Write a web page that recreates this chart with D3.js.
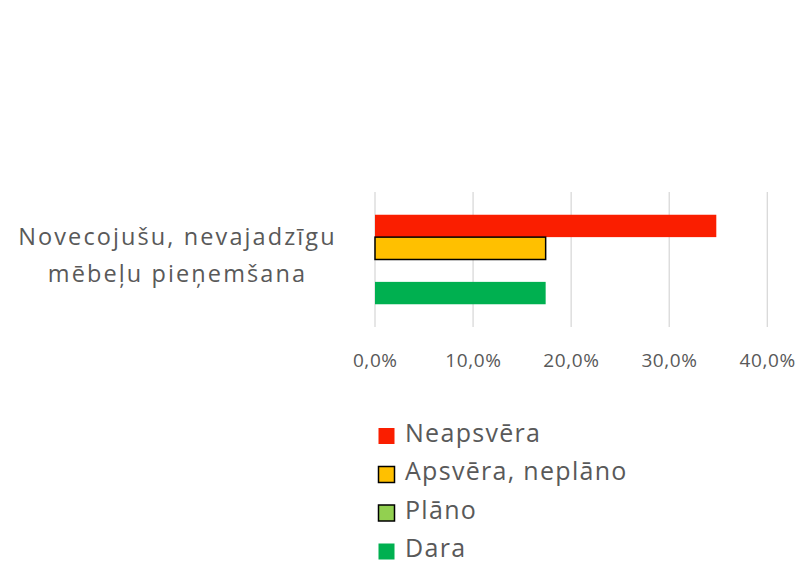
<!DOCTYPE html>
<html><head><meta charset="utf-8">
<script src="https://cdn.jsdelivr.net/npm/d3@7"></script>
<style>body{margin:0;background:#fff}svg{display:block}</style>
</head><body>
<svg id="c" width="808" height="570"></svg>
<script>
const categories = ["Novecojušu, nevajadzīgu mēbeļu pieņemšana"];
const categoryLines = [["Novecojušu, nevajadzīgu", "mēbeļu pieņemšana"]];
const seriesNames = ["Neapsvēra", "Apsvēra, neplāno", "Plāno", "Dara"];
const seriesValues = [[0.348], [0.174], [0.0], [0.174]];
const seriesColors = ["#FA1E00", "#FFC000", "#92D050", "#00B050"];
const seriesStroke = [null, "#000", "#000", null];
const tickValues = [0, 0.1, 0.2, 0.3, 0.4];

const svg = d3.select("#c");
const textColor = "#595959";
const font = "'Open Sans', Lato, sans-serif";

const x = d3.scaleLinear().domain([0, 0.4]).range([375, 767.3]);
const y0 = d3.scaleBand().domain(categories).range([192, 327]).paddingInner(0.337).paddingOuter(0.1685);
const y1 = d3.scaleBand().domain(seriesNames).range([0, y0.bandwidth()]).padding(0);

// gridlines
svg.append("g").selectAll("line").data(tickValues).join("line")
  .attr("x1", d => x(d)).attr("x2", d => x(d))
  .attr("y1", 192).attr("y2", 327)
  .attr("stroke", "#d9d9d9").attr("stroke-width", 1.3);

// axis labels
const fmt = d => d3.format(".1f")(d * 100).replace(".", ",") + "%";
svg.append("g").selectAll("text").data(tickValues).join("text")
  .attr("x", d => x(d) + 0.3).attr("y", 366.5)
  .attr("text-anchor", "middle")
  .attr("font-family", font).attr("font-size", 19).attr("letter-spacing", 0.6)
  .attr("fill", textColor).text(fmt);

// bars
categories.forEach((cat, ci) => {
  const g = svg.append("g").attr("transform", `translate(0,${y0(cat)})`);
  seriesNames.forEach((s, si) => {
    const v = seriesValues[si][ci];
    const w = x(v) - x(0);
    if (w <= 0) return;
    const r = g.append("rect")
      .attr("x", x(0)).attr("y", y1(s))
      .attr("width", w).attr("height", y1.bandwidth())
      .attr("fill", seriesColors[si]);
    if (seriesStroke[si]) r.attr("stroke", seriesStroke[si]).attr("stroke-width", 1.5);
  });
  // category label
  const cy = y0(cat) + y0.bandwidth() / 2;
  const lines = categoryLines[ci];
  const t = svg.append("text").attr("text-anchor", "middle")
    .attr("font-family", font).attr("font-size", 23.5).attr("letter-spacing", 2.1)
    .attr("fill", textColor);
  lines.forEach((ln, li) => {
    t.append("tspan").attr("x", 177.5).attr("y", cy - 15 + li * 37).text(ln);
  });
});

// legend
const lg = svg.append("g");
seriesNames.forEach((s, i) => {
  const cy = 436 + i * 38.5;
  lg.append("rect").attr("x", 378.5).attr("y", cy - 8).attr("width", 16).attr("height", 16)
    .attr("fill", seriesColors[i])
    .attr("stroke", seriesStroke[i] || "none").attr("stroke-width", 1.5);
  lg.append("text").attr("x", 405).attr("y", cy + 5.5)
    .attr("font-family", font).attr("font-size", 25).attr("letter-spacing", 1.3)
    .attr("fill", textColor).text(s);
});
</script>
</body></html>
